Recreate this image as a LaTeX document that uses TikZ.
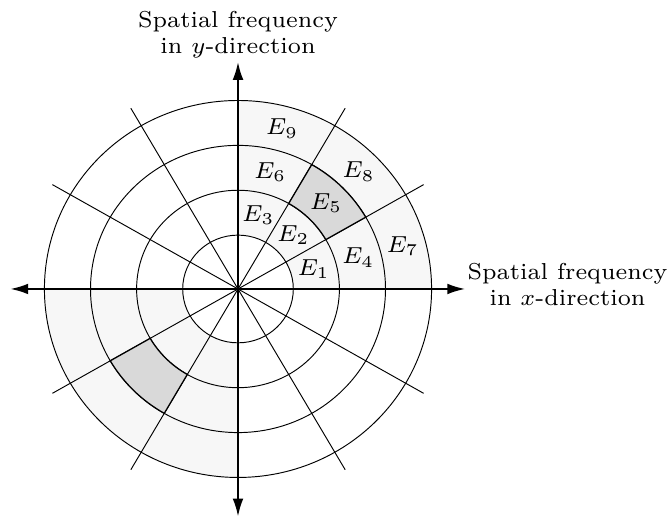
\documentclass[tikz,border=0pt]{standalone}
\usepackage{amsmath}
\usepackage{tikz}
\usetikzlibrary{arrows.meta}
\tikzset{
  ring/.style={line width=0.6pt},
  spoke/.style={line width=0.6pt},
  axis/.style={line width=1.3pt,{Latex[length=4mm,width=2.4mm]}-{Latex[length=4mm,width=2.4mm]}},
  lightsector/.style={fill=black!3},
  darksector/.style={fill=black!15, draw=black, line width=0.8pt},
  band/.style={scale=2.1, font=\scriptsize, inner sep=1pt},
  axislabel/.style={scale=2.09, font=\scriptsize, align=center, inner sep=0.5pt}
}
\begin{document}
\begin{tikzpicture}[xscale=1.027]
    \useasboundingbox (-5.164,-5.102) rectangle (9.308,6.439);
    % shaded sectors in the first and third quadrant
    \foreach \a in {0,180} {
        \fill[lightsector] (\a:1.2) arc[start angle=\a, end angle=\a+90, radius=1.2]
            -- ({\a+90}:4.2) arc[start angle=\a+90, end angle=\a, radius=4.2] -- cycle;
    }
    % rings and spokes
    \foreach \r in {1.2,2.2,3.2,4.2}
        \draw[ring] (0,0) circle[radius=\r];
    \foreach \a in {30,60,120,150}
        \draw[spoke] (\a:4.65) -- ({\a+180}:4.65);
    % the darker cell E5 and its mirror
    \foreach \a in {30,210} {
        \filldraw[darksector] (\a:2.2) arc[start angle=\a, end angle=\a+30, radius=2.2]
            -- ({\a+30}:3.2) arc[start angle=\a+30, end angle=\a, radius=3.2] -- cycle;
    }
    % axes
    \coordinate (west) at (-4.94,0);
    \coordinate (east) at (4.93,0);
    \coordinate (south) at (0,-5.07);
    \coordinate (north) at (0,5.06);
    \draw[axis] (west) -- (east);
    \draw[axis] (south) -- (north);
    \node (ylabel) [axislabel, anchor=south] at ([yshift=1pt]north) {Spatial frequency\\in $y$-direction};
    \node (xlabel) [axislabel, anchor=west] at ([yshift=3pt]east) {Spatial frequency\\in $x$-direction};
    % band labels E1 ... E9
    \foreach \j in {0,1,2}
        \foreach \k in {0,1,2} {
            \pgfmathtruncatemacro\n{3*\j+\k+1}
            \node (e\n) [band] at ({15+30*\k}:{1.7+\j}) {$E_{\n}$};
        }
\end{tikzpicture}
\end{document}
